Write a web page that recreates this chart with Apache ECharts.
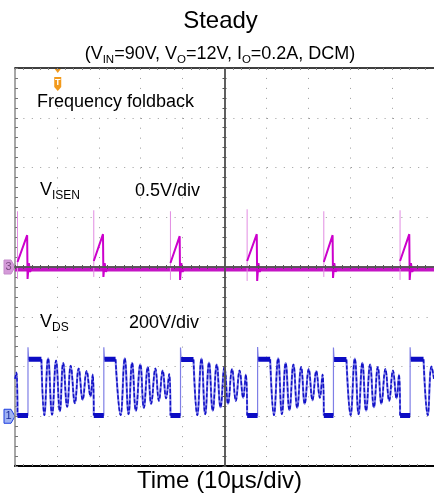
<!DOCTYPE html>
<html>
<head>
<meta charset="utf-8">
<script src="https://cdn.jsdelivr.net/npm/echarts@6/dist/echarts.min.js"></script>
<style>
  html, body { margin: 0; padding: 0; background: #fff; }
  #chart { width: 434px; height: 498px; }
</style>
</head>
<body>
<div id="chart"></div>
<script>
// ---- Time base (µs) ----
const timeRange = [0, 100];
const timePerDiv = 10;

// ---- Primary switch timing (µs) ----
const turnOn     = [0.6, 18.8, 37.1, 55.4, 73.7, 91.9];
const turnOff    = [3.1, 21.2, 39.5, 57.9, 76.0, 94.3];
const plateauEnd = [6.3, 24.0, 42.6, 60.9, 79.1, 97.5];

// ---- VDS (V), 200 V/div ----
const vdsRange = [-200, 1400];
const vdsPerDiv = 200;
const vdsOnLevel = 3;
const vdsPlateau = [229, 229, 228, 229, 228, 229];
const vdsSpike   = [277, 277, 276, 278, 276, 277];
// tail of the previous period's ringing at the left edge
const vdsLeadIn = [[0, 150], [0.35, 176]];
// valley/peak sequence of the DCM ringing after each demagnetisation [t µs, V]
const ring1 = [[7.0, 4], [7.9, 233], [8.85, 6], [9.8, 224], [10.7, 20], [11.5, 214], [12.45, 38], [13.3, 203], [14.3, 52], [15.2, 192], [16.15, 66], [17.1, 182], [18.0, 80], [18.55, 168]];
const ring2 = [[25.2, 4], [26.2, 233], [27.1, 8], [27.95, 215], [28.85, 22], [29.9, 209], [30.75, 34], [31.7, 198], [32.5, 50], [33.5, 192], [34.35, 62], [35.25, 184], [36.05, 72], [36.8, 170]];
const ring3 = [[43.5, 4], [44.5, 232], [45.4, 8], [46.3, 216], [47.2, 22], [48.15, 208], [49.05, 36], [50.0, 198], [50.85, 50], [51.8, 190], [52.7, 62], [53.6, 184], [54.45, 74], [55.1, 168]];
const ring4 = [[61.8, 4], [62.8, 233], [63.7, 8], [64.6, 214], [65.5, 24], [66.45, 208], [67.35, 34], [68.3, 198], [69.15, 50], [70.1, 190], [71.0, 64], [71.9, 182], [72.75, 74], [73.4, 168]];
const ring5 = [[80.1, 4], [81.1, 232], [82.0, 8], [82.9, 215], [83.8, 22], [84.75, 208], [85.65, 36], [86.6, 198], [87.45, 50], [88.4, 190], [89.3, 62], [90.2, 184], [91.05, 72], [91.65, 168]];
const ring6 = [[98.5, 4], [99.4, 200], [100, 150]];
const vdsRinging = [ring1, ring2, ring3, ring4, ring5, ring6];

// ---- VISEN (V), 0.5 V/div ----
const isenRange = [-2, 2];
const isenBaseline = -0.02;
const isenRampStart  = [0.05, 0.06, 0.04, 0.06, 0.05, 0.06];
const isenPeak       = [0.32, 0.33, 0.31, 0.33, 0.32, 0.33];
const isenUndershoot = [-0.12, -0.1, -0.13, -0.14, -0.11, -0.13];
const isenSpikeTop    = [0.56, 0.57, 0.56, 0.58, 0.56, 0.57];
const isenSpikeBottom = [-0.12, -0.1, -0.13, -0.14, -0.1, -0.13];

// ---- Markers ----
const triggerTime = 10.2;

const GAP = '-';
const FONT = '"Liberation Sans", Arial, sans-serif';

// VDS: switched (square) part, flat levels and ringing part
const vdsSquare = [];
const vdsFlat = [];
const vdsRing = [vdsLeadIn[0], vdsLeadIn[1], [turnOn[0], vdsOnLevel], [turnOn[0], GAP]];
turnOn.forEach((tOn, i) => {
  vdsSquare.push([tOn, vdsOnLevel], [turnOff[i], vdsOnLevel], [turnOff[i], vdsSpike[i]],
                 [turnOff[i] + 0.15, vdsPlateau[i]], [plateauEnd[i], vdsPlateau[i]], [plateauEnd[i], GAP]);
  vdsFlat.push([tOn, vdsOnLevel], [turnOff[i], vdsOnLevel], [turnOff[i], GAP],
               [turnOff[i] + 0.15, vdsPlateau[i]], [plateauEnd[i], vdsPlateau[i]], [plateauEnd[i], GAP]);
  vdsRing.push([plateauEnd[i], vdsPlateau[i]], ...vdsRinging[i]);
  if (i + 1 < turnOn.length) vdsRing.push([turnOn[i + 1], vdsOnLevel]);
  vdsRing.push([vdsRing[vdsRing.length - 1][0], GAP]);
});

// VISEN: current ramp per switching period and leading-edge spikes
const isenRamp = [];
const isenSpikes = [];
turnOn.forEach((tOn, i) => {
  const tPk = turnOff[i] - 0.2;
  isenRamp.push([tOn, isenRampStart[i]], [tPk, isenPeak[i]], [tPk + 0.1, isenUndershoot[i]],
                [tPk + 0.4, 0.04], [tPk + 0.7, -0.05], [tPk + 1.0, isenBaseline], [tPk + 1.0, GAP]);
  isenSpikes.push([tOn, isenSpikeBottom[i]], [tOn, isenSpikeTop[i]], [tOn, GAP]);
});
const isenBase = [[timeRange[0], isenBaseline], [timeRange[1], isenBaseline]];

const GRID = { left: 15, top: 68, width: 420, height: 398 };
const dotH = { color: '#9a9a9a', width: 1, type: [1, 7.4] };
const dotV = { color: '#9a9a9a', width: 1, type: [1, 8.95] };

const lineSeries = (name, data, style, extra) => Object.assign({
  name, type: 'line', data, xAxisIndex: 0, yAxisIndex: 0,
  showSymbol: false, symbol: 'none', animation: false, connectNulls: false,
  lineStyle: style
}, extra || {});

const chart = echarts.init(document.getElementById('chart'), null, { renderer: 'canvas' });

chart.setOption({
  backgroundColor: '#fff',
  animation: false,
  grid: [
    Object.assign({}, GRID),
    Object.assign({}, GRID),
    Object.assign({}, GRID)
  ],
  xAxis: [
    { // time axis, bottom border
      type: 'value', gridIndex: 0, min: timeRange[0], max: timeRange[1], interval: timePerDiv,
      position: 'bottom',
      axisLine: { onZero: false, lineStyle: { color: '#000', width: 2 } },
      axisTick: { show: true, inside: true, length: 2, lineStyle: { color: '#888' } },
      minorTick: { show: true, splitNumber: 5, length: 2, lineStyle: { color: '#888' } },
      axisLabel: { show: false },
      splitLine: { show: true, lineStyle: dotV }
    },
    { // top border
      type: 'value', gridIndex: 0, min: timeRange[0], max: timeRange[1], interval: timePerDiv,
      position: 'top',
      axisLine: { onZero: false, lineStyle: { color: '#000', width: 1.5 } },
      axisTick: { show: true, inside: true, length: 2, lineStyle: { color: '#888' } },
      minorTick: { show: true, splitNumber: 5, length: 2, lineStyle: { color: '#888' } },
      axisLabel: { show: false },
      splitLine: { show: false }
    },
    { // centre horizontal graticule line (ticks up)
      type: 'value', gridIndex: 1, min: -5, max: 5, interval: 1, z: 5,
      axisLine: { onZero: true, lineStyle: { color: '#555', width: 1.5 } },
      axisTick: { show: true, inside: true, length: 2, lineStyle: { color: '#555' } },
      minorTick: { show: true, splitNumber: 5, length: 2, lineStyle: { color: '#555' } },
      axisLabel: { show: false }, splitLine: { show: false }
    },
    { // centre horizontal graticule line (ticks down)
      type: 'value', gridIndex: 2, min: -5, max: 5, interval: 1, z: 5,
      axisLine: { onZero: true, lineStyle: { color: '#555', width: 1.5 } },
      axisTick: { show: true, inside: false, length: 2, lineStyle: { color: '#555' } },
      minorTick: { show: true, splitNumber: 5, length: 2, lineStyle: { color: '#555' } },
      axisLabel: { show: false }, splitLine: { show: false }
    }
  ],
  yAxis: [
    { // VDS
      type: 'value', gridIndex: 0, min: vdsRange[0], max: vdsRange[1], interval: vdsPerDiv,
      position: 'left',
      axisLine: { show: true, onZero: false, lineStyle: { color: '#8a8a8a', width: 1.5 } },
      axisTick: { show: true, inside: true, length: 3, lineStyle: { color: '#777' } },
      minorTick: { show: true, splitNumber: 5, length: 3, lineStyle: { color: '#777' } },
      axisLabel: { show: false },
      splitLine: { show: true, lineStyle: dotH }
    },
    { // VISEN
      type: 'value', gridIndex: 0, min: isenRange[0], max: isenRange[1], show: false,
      splitLine: { show: false }
    },
    { // centre vertical graticule line (ticks right)
      type: 'value', gridIndex: 1, min: -4, max: 4, interval: 1, z: 5,
      axisLine: { show: true, onZero: true, lineStyle: { color: '#555', width: 1.5 } },
      axisTick: { show: true, inside: true, length: 2, lineStyle: { color: '#555' } },
      minorTick: { show: true, splitNumber: 5, length: 2, lineStyle: { color: '#555' } },
      axisLabel: { show: false }, splitLine: { show: false }
    },
    { // centre vertical graticule line (ticks left)
      type: 'value', gridIndex: 2, min: -4, max: 4, interval: 1, z: 5,
      axisLine: { show: true, onZero: true, lineStyle: { color: '#555', width: 1.5 } },
      axisTick: { show: true, inside: false, length: 2, lineStyle: { color: '#555' } },
      minorTick: { show: true, splitNumber: 5, length: 2, lineStyle: { color: '#555' } },
      axisLabel: { show: false }, splitLine: { show: false }
    }
  ],
  series: [
    // VISEN (channel 3)
    lineSeries('VISEN base', isenBase, { color: '#c414c4', width: 5 }, { yAxisIndex: 1, z: 2 }),
    lineSeries('VISEN spikes', isenSpikes, { color: '#e28ce2', width: 1 }, { yAxisIndex: 1, z: 3 }),
    lineSeries('VISEN', isenRamp, { color: '#cc00cc', width: 2 }, { yAxisIndex: 1, z: 4 }),
    // VDS (channel 1)
    lineSeries('VDS edges', vdsSquare, { color: '#7f7fe6', width: 1.2 }, { z: 3 }),
    lineSeries('VDS ringing', vdsRing, { color: '#8282e8', width: 2.1 }, { smooth: 0.45, z: 3 }),
    lineSeries('VDS ringing dark', vdsRing, { color: '#1212c6', width: 1.5, type: [4, 2] }, { smooth: 0.45, z: 4 }),
    lineSeries('VDS levels', vdsFlat, { color: '#0c0cc4', width: 5 }, { z: 4 })
  ]
});

// Text and scope markers
const xPix = v => chart.convertToPixel({ xAxisIndex: 0 }, v);
const yVds = v => chart.convertToPixel({ yAxisIndex: 0 }, v);
const yIsen = v => chart.convertToPixel({ yAxisIndex: 1 }, v);

const gx = xPix(timeRange[0]);
const g1 = yVds(0);
const g3 = yIsen(0);
const tx = xPix(triggerTime);
const gTop = GRID.top;

function groundMarker(y, label, fill, stroke, textColor) {
  return {
    type: 'group', z: 20,
    children: [
      { type: 'polygon', shape: { points: [[gx - 11, y - 7], [gx - 4, y - 7], [gx, y], [gx - 4, y + 7], [gx - 11, y + 7]] },
        style: { fill: fill, stroke: stroke, lineWidth: 1 } },
      { type: 'text', style: { text: label, x: gx - 6.5, y: y, align: 'center', verticalAlign: 'middle',
        font: '11px ' + FONT, fill: textColor } }
    ]
  };
}

const sub = { fontSize: 12, lineHeight: 12, verticalAlign: 'bottom', fontFamily: FONT, fill: '#000' };
const main18 = { fontSize: 18, lineHeight: 22, fontFamily: FONT, fill: '#000' };

chart.setOption({
  graphic: [
    { type: 'text', z: 20, style: { text: 'Steady', x: 220.5, y: 21, align: 'center', verticalAlign: 'middle',
      font: '24px ' + FONT, fill: '#000' } },
    { type: 'text', z: 20, style: {
      text: '{m|(V}{s|IN}{m|=90V, V}{s|O}{m|=12V, I}{s|O}{m|=0.2A, DCM)}',
      x: 220, y: 54.5, align: 'center', verticalAlign: 'middle',
      rich: { m: main18, s: Object.assign({}, sub, { fontSize: 11.5 }) } } },
    { type: 'text', z: 20, style: { text: 'Frequency foldback', x: 37, y: 101.7, align: 'left', verticalAlign: 'middle',
      font: '18px ' + FONT, fill: '#000' } },
    { type: 'text', z: 20, style: { text: '{m|V}{s|ISEN}', x: 40, y: 190.5, align: 'left', verticalAlign: 'middle',
      rich: { m: main18, s: sub } } },
    { type: 'text', z: 20, style: { text: '0.5V/div', x: 135, y: 190.7, align: 'left', verticalAlign: 'middle',
      font: '18px ' + FONT, fill: '#000' } },
    { type: 'text', z: 20, style: { text: '{m|V}{s|DS}', x: 40, y: 322.5, align: 'left', verticalAlign: 'middle',
      rich: { m: main18, s: sub } } },
    { type: 'text', z: 20, style: { text: '200V/div', x: 129, y: 322.7, align: 'left', verticalAlign: 'middle',
      font: '18px ' + FONT, fill: '#000' } },
    { type: 'text', z: 20, style: { text: 'Time (10µs/div)', x: 219.5, y: 481.5, align: 'center', verticalAlign: 'middle',
      font: '24px ' + FONT, fill: '#000' } },
    groundMarker(g3, '3', '#d49ad8', '#c58acb', '#7a4a80'),
    groundMarker(g1, '1', '#9fb2f2', '#1e3ee0', '#1a2a9a'),
    { // trigger position marker
      type: 'group', z: 20,
      children: [
        { type: 'polygon', shape: { points: [[tx - 3, gTop + 1], [tx + 3, gTop + 1], [tx, gTop + 5]] },
          style: { fill: '#f29a1c' } },
        { type: 'polygon', shape: { points: [[tx - 3.5, gTop + 9], [tx + 3.5, gTop + 9], [tx + 3.5, gTop + 19], [tx, gTop + 23], [tx - 3.5, gTop + 19]] },
          style: { fill: '#f29a1c' } },
        { type: 'text', style: { text: 'T', x: tx, y: gTop + 15, align: 'center', verticalAlign: 'middle',
          font: 'bold 9px ' + FONT, fill: '#fff' } }
      ]
    }
  ]
});
</script>
</body>
</html>
